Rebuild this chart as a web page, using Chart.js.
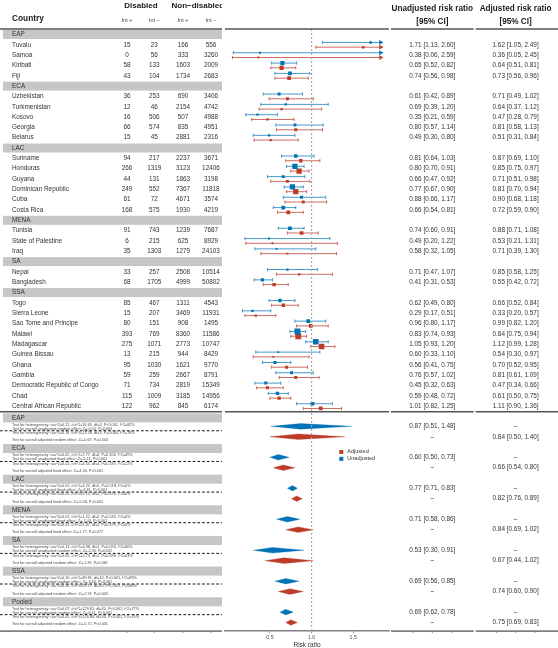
<!DOCTYPE html>
<html><head><meta charset="utf-8">
<script src="https://cdn.jsdelivr.net/npm/chart.js@4.4.0/dist/chart.umd.min.js"></script>
<style>html,body{margin:0;padding:0;background:#fff;}canvas{display:block;}</style>
</head><body>
<canvas id="c" width="558" height="648"></canvas>
<script>
// ---------- DATA ----------
const regions = ['EAP','ECA','LAC','MENA','SA','SSA'];
const countries = ['Tuvalu','Samoa','Kiribati','Fiji','Uzbekistan','Turkmenistan','Kosovo','Georgia','Belarus',
  'Suriname','Honduras','Guyana','Dominican Republic','Cuba','Costa Rica','Tunisia','State of Palestine','Iraq',
  'Nepal','Bangladesh','Togo','Sierra Leone','Sao Tome and Principe','Malawi','Madagascar','Guinea Bissau',
  'Ghana','Gambia','Democratic Republic of Congo','Chad','Central African Republic'];
const countryRegion = [0,0,0,0,1,1,1,1,1,2,2,2,2,2,2,3,3,3,4,4,5,5,5,5,5,5,5,5,5,5,5];
const disIntPos = [15,0,58,43,36,12,16,66,15,94,266,44,249,61,168,91,6,35,33,68,85,15,80,393,275,13,95,59,71,115,122];
const disIntNeg = [23,56,133,104,253,46,506,574,45,217,1319,131,552,72,575,743,215,1303,257,1705,467,207,151,769,1071,215,1030,259,734,1009,962];
const nonIntPos = [166,333,1603,1734,690,2154,507,835,2881,2237,3123,1863,7367,4671,1930,1239,625,1279,2508,4999,1311,3469,908,8360,2773,944,1621,2667,2819,3185,845];
const nonIntNeg = [556,3260,2009,2683,3406,4742,4988,4951,2316,3671,12406,3198,11818,3574,4219,7687,8929,24103,10514,50802,4543,11931,1495,11586,10747,8429,9770,8791,15349,14956,6174];
const unEst = [1.71,0.38,0.65,0.74,0.61,0.69,0.35,0.80,0.49,0.81,0.80,0.66,0.77,0.88,0.66,0.74,0.49,0.58,0.71,0.41,0.62,0.29,0.96,0.83,1.05,0.60,0.56,0.76,0.45,0.59,1.01];
const unLo  = [1.13,0.06,0.52,0.56,0.42,0.39,0.21,0.57,0.30,0.64,0.70,0.47,0.67,0.66,0.54,0.60,0.20,0.32,0.47,0.31,0.49,0.17,0.80,0.74,0.93,0.33,0.41,0.57,0.32,0.48,0.82];
const unHi  = [2.60,2.59,0.82,0.98,0.89,1.20,0.59,1.14,0.80,1.03,0.91,0.92,0.90,1.17,0.81,0.91,1.22,1.05,1.07,0.53,0.80,0.51,1.17,0.93,1.20,1.10,0.75,1.02,0.63,0.72,1.25];
const adEst = [1.62,0.36,0.64,0.73,0.71,0.64,0.47,0.81,0.51,0.87,0.85,0.71,0.81,0.90,0.72,0.88,0.53,0.71,0.85,0.55,0.66,0.33,0.99,0.84,1.12,0.54,0.70,0.81,0.47,0.61,1.11];
const adLo  = [1.05,0.05,0.51,0.56,0.49,0.37,0.28,0.58,0.31,0.69,0.75,0.51,0.70,0.68,0.59,0.71,0.21,0.39,0.58,0.42,0.52,0.20,0.82,0.75,0.99,0.30,0.52,0.61,0.34,0.50,0.90];
const adHi  = [2.49,2.45,0.81,0.96,1.02,1.12,0.79,1.13,0.84,1.10,0.97,0.98,0.94,1.18,0.90,1.08,1.31,1.30,1.25,0.72,0.84,0.57,1.20,0.94,1.28,0.97,0.95,1.09,0.66,0.75,1.36];
const weights = [5,3,14,11,7,4,4,7,4,9,22,7,22,7,11,11,3,3,4,9,9,4,11,28,25,3,7,7,7,9,11];

const blocks = ['EAP','ECA','LAC','MENA','SA','SSA','Pooled'];
const poolUnEst = [0.87,0.60,0.77,0.71,0.53,0.69,0.69];
const poolUnLo  = [0.51,0.50,0.71,0.58,0.30,0.56,0.62];
const poolUnHi  = [1.48,0.73,0.83,0.86,0.91,0.85,0.78];
const poolAdEst = [0.84,0.66,0.82,0.84,0.67,0.74,0.75];
const poolAdLo  = [0.50,0.54,0.76,0.69,0.44,0.60,0.69];
const poolAdHi  = [1.40,0.80,0.89,1.02,1.02,0.90,0.83];
const models = ['random','fixed','fixed','fixed','random','random','random'];
const hetUn = ['tau^2=0.21, chi^2=16.65, df=3, P<0.001, I^2=82%','tau^2=0.05, chi^2=7.77, df=4, P=0.100, I^2=49%',
  'tau^2=0.01, chi^2=4.22, df=5, P=0.518, I^2=0%','tau^2=0.01, chi^2=1.22, df=2, P=0.543, I^2=0%',
  'tau^2=0.13, chi^2=4.98, df=1, P=0.026, I^2=80%','tau^2=0.10, chi^2=89.91, df=10, P<0.001, I^2=89%',
  'tau^2=0.07, chi^2=129.65, df=30, P<0.001, I^2=77%'];
const zUn = ['Z=-0.50, P=0.603','Z=-5.11, P<0.001','Z=-6.61, P<0.001','Z=-3.44, P<0.001','Z=-2.30, P=0.022','Z=-3.46, P<0.001','Z=-6.41, P<0.001'];
const hetAd = ['tau^2=0.16, chi^2=13.58, df=3, P=0.004, I^2=78%','tau^2=0.01, chi^2=4.55, df=4, P=0.337, I^2=12%',
  'tau^2=0.01, chi^2=3.15, df=5, P=0.676, I^2=0%','tau^2=0.01, chi^2=1.47, df=2, P=0.479, I^2=0%',
  'tau^2=0.05, chi^2=2.73, df=1, P=0.099, I^2=63%','tau^2=0.08, chi^2=69.17, df=10, P<0.001, I^2=86%',
  'tau^2=0.05, chi^2=126.88, df=30, P<0.001, I^2=76%'];
const zAd = ['Z=-0.67, P=0.504','Z=-4.30, P<0.001','Z=-5.08, P<0.001','Z=-1.77, P=0.077','Z=-1.87, P=0.061','Z=-2.97, P=0.003','Z=-5.72, P<0.001'];
const xTicks = [0.5, 1.0, 1.5];
const refValue = 1.0;

// ---------- LAYOUT (row positions) ----------
const rows = [];
let r = 0;
const rowOf = [];
regions.forEach((reg, k) => {
  rows.push({type:'region', name:reg, u:r++});
  countryRegion.forEach((cr, i) => { if (cr === k) { rowOf[i] = r; rows.push({type:'country', i, u:r++}); } });
});
const uUn = k => 37.96 + 3 * k;
const uAd = k => 38.97 + 3 * k;
const uBand = k => 37.14 + 2.969 * k;
const Y_MIN = -0.532, Y_MAX = 57.80;
const X_MIN = -0.04, X_MAX = 1.93, X_CLIP = 1.83;

const BLUE = '#0072B5', RED = '#BC3C29';
const BLUE_L = 'rgba(0,114,181,0.72)', RED_L = 'rgba(188,60,41,0.75)';
const OFF = 0.23;

function ciSets(est, lo, hi, sign, lineCol, ptCol) {
  const lines = [], caps = [], arrows = [], pts = [], radii = [];
  countries.forEach((c, i) => {
    const y = rowOf[i] + sign * OFF;
    const h = Math.min(hi[i], X_CLIP);
    lines.push({x: lo[i], y}, {x: h, y}, {x: null, y: null});
    caps.push({x: lo[i], y});
    if (hi[i] > X_CLIP) arrows.push({x: X_CLIP, y}); else caps.push({x: hi[i], y});
    pts.push({x: est[i], y});
    radii.push(1.12 * Math.sqrt(weights[i]) / Math.SQRT2);
  });
  return [
    {data: lines, showLine: true, spanGaps: false, borderColor: lineCol, borderWidth: 1, pointRadius: 0},
    {data: caps, pointStyle: 'line', rotation: 90, pointRadius: 1.6, borderColor: lineCol, borderWidth: 1},
    {data: arrows, pointStyle: 'triangle', rotation: 90, pointRadius: 2.4, backgroundColor: ptCol, borderColor: ptCol, borderWidth: 0.5},
    {data: pts, pointStyle: 'rect', pointRadius: radii, backgroundColor: ptCol, borderWidth: 0}
  ];
}
function diamond(e, l, h, y, col) {
  const dh = 0.27;
  return {data: [{x:l,y},{x:e,y:y-dh},{x:h,y},{x:e,y:y+dh},{x:l,y}], showLine: true, fill: 'shape',
    backgroundColor: col, borderColor: col, borderWidth: 0.3, pointRadius: 0, tension: 0};
}

const datasets = [
  {data: [{x: refValue, y: Y_MIN}, {x: refValue, y: Y_MAX}], showLine: true, borderColor: '#a8a8a8', borderWidth: 1.2, borderDash: [2, 2], pointRadius: 0},
  ...ciSets(unEst, unLo, unHi, -1, BLUE_L, BLUE),
  ...ciSets(adEst, adLo, adHi, 1, RED_L, RED)
];
blocks.forEach((b, k) => {
  datasets.push(diamond(poolUnEst[k], poolUnLo[k], poolUnHi[k], uUn(k), BLUE));
  datasets.push(diamond(poolAdEst[k], poolAdLo[k], poolAdHi[k], uAd(k), RED));
});

const FONT = '"Liberation Sans", Arial, Helvetica, sans-serif';
const fmt = (e, l, h) => `${e.toFixed(2)} [${l.toFixed(2)}, ${h.toFixed(2)}]`;

const tablePlugin = {
  id: 'tablePlugin',
  afterDraw(chart) {
    const {ctx, chartArea: ca, scales: {y}} = chart;
    const Y = u => y.getPixelForValue(u);
    ctx.save();
    ctx.textBaseline = 'middle';
    // headers
    ctx.fillStyle = '#1a1a1a';
    ctx.font = `bold 8px ${FONT}`;
    ctx.textAlign = 'center';
    ctx.fillText('Disabled', 141, 5.8);
    ctx.save(); ctx.beginPath(); ctx.rect(0, 0, 222, 28); ctx.clip();
    ctx.textAlign = 'left';
    ctx.fillText('Non\u2212disabled', 171.5, 5.8);
    ctx.restore();
    ctx.font = `bold 8.3px ${FONT}`;
    ctx.textAlign = 'left';
    ctx.fillText('Country', 12, 18.5);
    ctx.textAlign = 'center';
    ctx.font = `bold 8.2px ${FONT}`;
    ctx.fillText('Unadjusted risk ratio', 432.3, 8.3);
    ctx.fillText('[95% CI]', 432.3, 21.7);
    ctx.fillText('Adjusted risk ratio', 515.6, 8.3);
    ctx.fillText('[95% CI]', 515.6, 21.7);
    const colX = [127, 154.3, 183, 211];
    ctx.font = `5.5px ${FONT}`;
    ctx.fillStyle = '#444';
    ['Int +', 'Int \u2212', 'Int +', 'Int \u2212'].forEach((t, j) => ctx.fillText(t, colX[j], 20));

    // bands + rows
    const band = (py) => { ctx.fillStyle = '#c6c6c6'; ctx.fillRect(3, py - 4.5, 219, 9); };
    rows.forEach(row => {
      const py = Y(row.u);
      if (row.type === 'region') {
        band(py);
        ctx.fillStyle = '#333'; ctx.font = `6.4px ${FONT}`; ctx.textAlign = 'left';
        ctx.fillText(row.name, 12, py);
      } else {
        const i = row.i;
        ctx.fillStyle = '#333'; ctx.font = `6.4px ${FONT}`; ctx.textAlign = 'left';
        ctx.fillText(countries[i], 12, py);
        ctx.textAlign = 'center';
        [disIntPos[i], disIntNeg[i], nonIntPos[i], nonIntNeg[i]].forEach((v, j) => ctx.fillText(String(v), colX[j], py));
        ctx.fillText(fmt(unEst[i], unLo[i], unHi[i]), 432.3, py);
        ctx.fillText(fmt(adEst[i], adLo[i], adHi[i]), 515.6, py);
      }
    });

    // bottom blocks
    blocks.forEach((b, k) => {
      const B = Y(uBand(k));
      band(B);
      ctx.fillStyle = '#333'; ctx.font = `6.4px ${FONT}`; ctx.textAlign = 'left';
      ctx.fillText(b, 12, B);
      ctx.font = `3.8px ${FONT}`; ctx.fillStyle = '#4a4a4a';
      ctx.fillText('Test for heterogeneity: ' + hetUn[k], 12, B + 6.8);
      ctx.fillText('Test for overall unadjusted ' + models[k] + ' effect: ' + zUn[k], 12, B + 10.8);
      ctx.fillText('Test for heterogeneity: ' + hetAd[k], 12, B + 15.1);
      ctx.fillText('Test for overall adjusted ' + models[k] + ' effect: ' + zAd[k], 12, B + 22.4);
      ctx.save();
      ctx.strokeStyle = '#111'; ctx.lineWidth = 1; ctx.setLineDash([2.7, 2]);
      ctx.beginPath(); ctx.moveTo(0, B + 12.9); ctx.lineTo(222, B + 12.9); ctx.stroke();
      ctx.restore();
      // CI text
      ctx.fillStyle = '#333'; ctx.font = `6.4px ${FONT}`; ctx.textAlign = 'center';
      const pu = Y(uUn(k)), pa = Y(uAd(k));
      ctx.fillText(fmt(poolUnEst[k], poolUnLo[k], poolUnHi[k]), 432.3, pu);
      ctx.fillText('\u2013', 432.3, pa);
      ctx.fillText('\u2013', 515.6, pu);
      ctx.fillText(fmt(poolAdEst[k], poolAdLo[k], poolAdHi[k]), 515.6, pa);
    });

    // panel lines
    const hseg = (x0, x1, py, col, w) => { ctx.strokeStyle = col; ctx.lineWidth = w; ctx.beginPath(); ctx.moveTo(x0, py); ctx.lineTo(x1, py); ctx.stroke(); };
    const segs = [[0, 222], [ca.left, ca.right], [391, 473.7], [475.7, 558]];
    [ca.top, Y(36.55)].forEach(py => segs.forEach(s => hseg(s[0], s[1], py, '#555', 1.6)));
    const bottomSegs = [[0, 222, colX], [391, 473.7, [413, 432.3, 452]], [475.7, 558, [496.7, 515.6, 535]]];
    bottomSegs.forEach(s => {
      hseg(s[0], s[1], ca.bottom, '#808080', 1.6);
      ctx.strokeStyle = '#808080'; ctx.lineWidth = 0.8;
      s[2].forEach(tx => { ctx.beginPath(); ctx.moveTo(tx, ca.bottom); ctx.lineTo(tx, ca.bottom + 2); ctx.stroke(); });
    });

    // legend
    const lx = 341.3, ly1 = Y(uUn(0) + 2.48), ly2 = Y(uUn(0) + 3.15);
    ctx.fillStyle = RED; ctx.fillRect(lx - 2, ly1 - 2, 4, 4);
    ctx.fillStyle = BLUE; ctx.fillRect(lx - 2, ly2 - 2, 4, 4);
    ctx.fillStyle = '#333'; ctx.font = `5.5px ${FONT}`; ctx.textAlign = 'left';
    ctx.fillText('Adjusted', 347.3, ly1);
    ctx.fillText('Unadjusted', 347.3, ly2);
    ctx.restore();
  }
};

new Chart(document.getElementById('c'), {
  type: 'scatter',
  data: {datasets},
  options: {
    responsive: false,
    animation: false,
    events: [],
    devicePixelRatio: 1,
    layout: {padding: {left: 225, right: 169, top: 29, bottom: 0}},
    plugins: {legend: {display: false}, tooltip: {enabled: false}},
    scales: {
      x: {
        type: 'linear', min: X_MIN, max: X_MAX,
        afterBuildTicks: axis => { axis.ticks = xTicks.map(v => ({value: v})); },
        ticks: {font: {size: 5.3, family: FONT}, color: '#4d4d4d', padding: 1, callback: v => Number(v).toFixed(1)},
        grid: {drawOnChartArea: false, drawTicks: true, tickLength: 2, color: '#808080', lineWidth: 0.8},
        border: {color: '#808080', width: 1.6},
        title: {display: true, text: 'Risk ratio', font: {size: 6.5, family: FONT, lineHeight: 1}, color: '#333', padding: {top: 0, bottom: 0}}
      },
      y: {type: 'linear', reverse: true, min: Y_MIN, max: Y_MAX, display: false}
    }
  },
  plugins: [tablePlugin]
});
</script>
</body></html>
